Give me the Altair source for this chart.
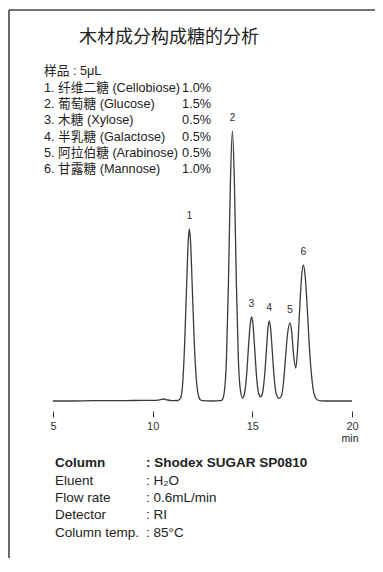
import altair as alt
import pandas as pd

# ---------------- data ----------------
title_text = "木材成分构成糖的分析"
sample_header = "样品 : 5μL"
sugar_names = [
    "1. 纤维二糖 (Cellobiose)",
    "2. 葡萄糖 (Glucose)",
    "3. 木糖 (Xylose)",
    "4. 半乳糖 (Galactose)",
    "5. 阿拉伯糖 (Arabinose)",
    "6. 甘露糖 (Mannose)",
]
sugar_conc = ["1.0%", "1.5%", "0.5%", "0.5%", "0.5%", "1.0%"]

cond_names = ["Column", "Eluent", "Flow rate", "Detector", "Column temp."]
cond_values = [": Shodex SUGAR SP0810", ": H₂O", ": 0.6mL/min", ": RI", ": 85°C"]

peak_labels = ["1", "2", "3", "4", "5", "6"]
peak_times = [11.84, 14.00, 14.96, 15.85, 16.89, 17.56]
peak_heights = [172, 270, 84, 80, 78, 136]

x_ticks = [5, 10, 15, 20]
x_unit = "min"

time = [
    5.00, 6.00, 7.00, 8.00, 9.00, 10.00, 10.35, 10.55, 10.75, 11.00,
    11.27, 11.40, 11.50, 11.60, 11.70, 11.79, 11.84, 11.89, 11.99, 12.09,
    12.19, 12.29, 12.40, 12.53, 13.00, 13.40,
    13.50, 13.60, 13.70, 13.80, 13.90, 14.00, 14.10, 14.20, 14.30, 14.40,
    14.51, 14.61, 14.71, 14.81, 14.89, 14.96, 15.03, 15.11, 15.21, 15.31,
    15.41, 15.51, 15.61, 15.71, 15.78, 15.85, 15.92, 16.00, 16.10, 16.20,
    16.34, 16.46, 16.56, 16.66, 16.76, 16.89, 16.97, 17.07, 17.18,
    17.27, 17.37, 17.47, 17.56, 17.65, 17.75, 17.85, 17.95, 18.05, 18.15,
    18.27, 18.45, 19.00, 20.00,
]
signal = [
    0.0, 0.0, 0.3, 0.3, 0.5, 0.6, 1.2, 2.0, 1.0, 0.4,
    0.5, 3, 16, 55, 113, 162, 172, 163, 112, 57,
    22, 6, 1, 0.3, 0.0, 0.3,
    1.5, 10, 41, 117, 219, 270, 219, 117, 41, 11,
    3, 8, 25, 55, 76, 84, 77, 55, 25, 8,
    4.3, 8, 24, 52, 72, 80, 72, 50, 22, 7,
    2.7, 5, 18, 42, 66, 78, 70, 46, 33,
    52, 90, 124, 136, 125, 95, 58, 30, 12, 4,
    1, 0.2, 0.0, 0.0,
]

# ---------------- chart ----------------
LATIN = "Liberation Sans, Noto Sans CJK SC, DejaVu Sans, sans-serif"
CJK = "Noto Sans CJK SC"
INK = "#222222"

W, H = 299, 310

trace = pd.DataFrame({"t": time, "s": signal})
peaks = pd.DataFrame({"t": peak_times, "s": peak_heights, "label": peak_labels})
one = pd.DataFrame({"k": [0]})

xs = alt.Scale(domain=[5, 20], nice=False, zero=False)
ys = alt.Scale(domain=[-10, 300], nice=False, zero=False)

line = alt.Chart(trace).mark_line(
    interpolate="monotone", color="#3a3a3a", strokeWidth=1.3
).encode(
    x=alt.X("t:Q", scale=xs, axis=alt.Axis(
        values=x_ticks, title=None, domain=False, grid=False,
        tickSize=6, tickColor="#333333", tickWidth=1,
        labelFontSize=11, labelPadding=3, labelColor="#333333",
        labelFont=LATIN, labelFlush=False)),
    y=alt.Y("s:Q", scale=ys, axis=None),
)

plabels = alt.Chart(peaks).mark_text(
    fontSize=10.5, font=LATIN, color="#333333", baseline="alphabetic", dy=-10
).encode(
    x=alt.X("t:Q", scale=xs),
    y=alt.Y("s:Q", scale=ys),
    text="label:N",
)


def txt(text, x, y, size=12, align="left", font=LATIN, weight="normal", lh=None):
    kw = dict(fontSize=size, font=font, color=INK, align=align,
              baseline="alphabetic", fontWeight=weight)
    if lh is not None:
        kw["lineHeight"] = lh
    return alt.Chart(one).mark_text(**kw).encode(
        x=alt.value(x), y=alt.value(y), text=alt.value(text)
    )


title = txt(title_text, 116, -58, size=18, align="center", font=CJK)
block1 = txt([sample_header] + sugar_names, -9, -25.7, size=12.7, lh=16.33)
block2 = txt(sugar_conc, 158, -9.4, size=12.7, align="right", lh=16.33)
unit = txt(x_unit, 297, 341, size=10.5, align="center")

cond_bold_l = txt(cond_names[0], 2, 365.9, size=13.5, weight="bold")
cond_bold_r = txt(cond_values[0], 93, 365.9, size=13.5, weight="bold")
cond_l = txt(cond_names[1:], 2, 383.8, size=13.5, lh=17.33)
cond_r = txt(cond_values[1:], 93, 383.8, size=13.5, lh=17.33)

frame_left = alt.Chart(one).mark_rule(color="#444444", strokeWidth=1.6).encode(
    x=alt.value(-44), y=alt.value(-91), y2=alt.value(470))
frame_top = alt.Chart(one).mark_rule(color="#444444", strokeWidth=1.6).encode(
    x=alt.value(-44), x2=alt.value(340), y=alt.value(-91))

chart = alt.layer(
    frame_left, frame_top, line, plabels, title, block1, block2, unit,
    cond_bold_l, cond_bold_r, cond_l, cond_r,
).properties(
    width=W, height=H,
    background="white",
    autosize=alt.AutoSizeParams(type="none"),
    padding={"left": 45, "top": 93, "right": 23, "bottom": 147},
).configure_view(stroke=None, strokeWidth=0)

chart.save("out.html", embed_options={"renderer": "svg", "actions": False})
